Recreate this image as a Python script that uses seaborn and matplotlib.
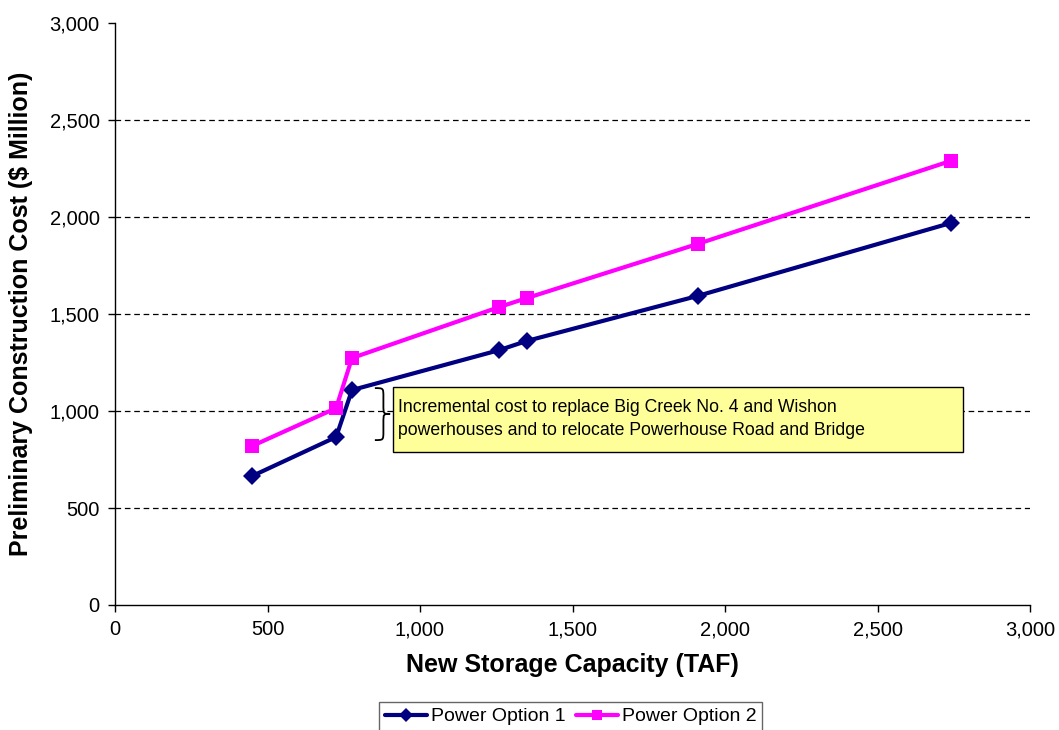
import matplotlib
matplotlib.use("Agg")
import matplotlib.pyplot as plt
import seaborn as sns
import pandas as pd
from matplotlib.path import Path
from matplotlib.patches import PathPatch, Rectangle

# ---- data ----
storage = [450, 725, 777, 1260, 1350, 1910, 2740]
option1 = [665, 866, 1108, 1314, 1361, 1593, 1969]
option2 = [820, 1015, 1273, 1536, 1582, 1861, 2289]
series_names = ["Power Option 1", "Power Option 2"]
xticks = [0, 500, 1000, 1500, 2000, 2500, 3000]
yticks = [0, 500, 1000, 1500, 2000, 2500, 3000]
note = ("Incremental cost to replace Big Creek No. 4 and Wishon\n"
        "powerhouses and to relocate Powerhouse Road and Bridge")

df = pd.DataFrame({
    "storage": storage * 2,
    "cost": option1 + option2,
    "series": [series_names[0]] * len(storage) + [series_names[1]] * len(storage),
})

sns.set_theme(style="white")
plt.rcParams["font.family"] = ["Liberation Sans", "DejaVu Sans"]
plt.rcParams["text.color"] = "black"
plt.rcParams["axes.labelcolor"] = "black"
plt.rcParams["xtick.color"] = "black"
plt.rcParams["ytick.color"] = "black"

fig = plt.figure(figsize=(10.59, 7.30), dpi=100)
ax = fig.add_axes([115 / 1059, 1 - 605 / 730, 915 / 1059, 582 / 730])

colors = {series_names[0]: "#000080", series_names[1]: "#FF00FF"}
markers = {series_names[0]: "D", series_names[1]: "s"}
msizes = {series_names[0]: 9.5, series_names[1]: 10.5}

for name in series_names:
    sub = df[df["series"] == name]
    sns.lineplot(data=sub, x="storage", y="cost", ax=ax, color=colors[name],
                 marker=markers[name], markersize=msizes[name],
                 markeredgewidth=0, linewidth=3, zorder=3,
                 sort=False, legend=False)

ax.set_xlim(0, 3000)
ax.set_ylim(0, 3000)
ax.set_xticks(xticks)
ax.set_yticks(yticks)
ax.set_xticklabels([f"{v:,}" for v in xticks], fontsize=14.5)
ax.set_yticklabels([f"{v:,}" for v in yticks], fontsize=14.5)
ax.tick_params(axis="both", direction="out", length=5, width=1, color="black",
               labelcolor="black", bottom=True, left=True, pad=6)

for v in yticks[1:-1]:
    ax.axhline(v, color="black", linewidth=0.9, dashes=(4.5, 3), zorder=1)

for side in ["top", "right"]:
    ax.spines[side].set_visible(False)
for side in ["left", "bottom"]:
    ax.spines[side].set_color("black")
    ax.spines[side].set_linewidth(1)

ax.set_xlabel("New Storage Capacity (TAF)", fontsize=18, fontweight="bold",
              labelpad=10, color="black")
ax.set_ylabel("Preliminary Construction Cost ($ Million)", fontsize=18,
              fontweight="bold", labelpad=12, color="black")

# annotation box
ax.add_patch(Rectangle((911, 789), 1869, 335, facecolor="#FFFF99",
                       edgecolor="black", linewidth=1, zorder=4))
ax.text(928, 958, note, fontsize=12.7, va="center", ha="left", zorder=5,
        linespacing=1.45, color="black")

# curly brace
x0, xm, x1 = 852, 880, 902
top, mid, bot = 1118, 985, 850
d = 45
verts = [
    (x0, top), (xm, top), (xm, top), (xm, top - d),
    (xm, mid + d),
    (xm, mid), (xm, mid), (x1, mid),
    (xm, mid), (xm, mid), (xm, mid - d),
    (xm, bot + d),
    (xm, bot), (xm, bot), (x0, bot),
]
codes = [Path.MOVETO, Path.CURVE4, Path.CURVE4, Path.CURVE4,
         Path.LINETO,
         Path.CURVE4, Path.CURVE4, Path.CURVE4,
         Path.CURVE4, Path.CURVE4, Path.CURVE4,
         Path.LINETO,
         Path.CURVE4, Path.CURVE4, Path.CURVE4]
ax.add_patch(PathPatch(Path(verts, codes), facecolor="none", edgecolor="black",
                       linewidth=1.3, zorder=4))

# legend
handles, labels = [], []
for name in series_names:
    h, = ax.plot([], [], color=colors[name], marker=markers[name], linewidth=3,
                 markersize=7 if markers[name] == "D" else 7.5, markeredgewidth=0)
    handles.append(h)
    labels.append(name)
leg = fig.legend(handles, labels, loc="upper left",
                 bbox_to_anchor=(379 / 1059, 1 - 702 / 730),
                 ncol=2, fontsize=14, frameon=True, fancybox=False,
                 handlelength=2.15, handletextpad=0.2, columnspacing=0.55,
                 borderpad=0.3, borderaxespad=0)
leg.get_frame().set_edgecolor("#404040")
leg.get_frame().set_linewidth(1)

fig.savefig("out.png", dpi=100)
